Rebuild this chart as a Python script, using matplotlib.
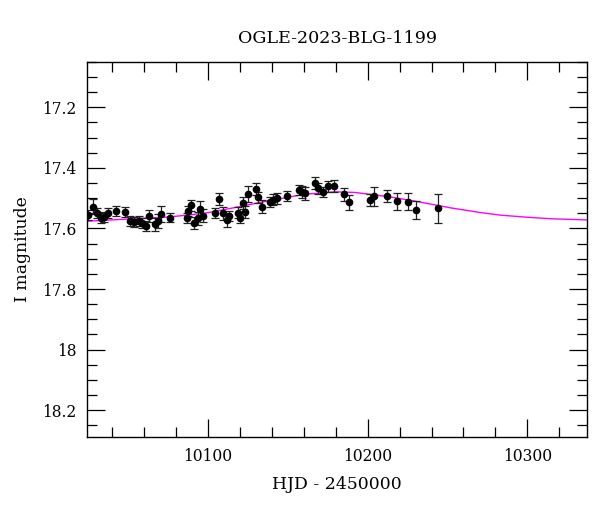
import matplotlib
matplotlib.use('Agg')
import matplotlib.pyplot as plt
from matplotlib.ticker import MultipleLocator

# photometry (HJD - 2450000, I mag, error)
hjd = [10025.3, 10028.5, 10030.6, 10033.3, 10035.3, 10037.5, 10042.5, 10048.3,
       10051.4, 10054.1, 10057.2, 10059.1, 10061.2, 10063.5, 10067.1, 10068.7,
       10070.6, 10076.4, 10086.9, 10087.9, 10089.4, 10091.6, 10093.8, 10095.2,
       10096.9, 10104.6, 10107.3, 10109.4, 10111.9, 10113.3, 10118.8, 10120.2,
       10122.3, 10123.4, 10125.1, 10130.2, 10131.3, 10134.2, 10139.0, 10141.1,
       10143.2, 10149.5, 10157.3, 10159.2, 10160.9, 10167.2, 10169.2, 10172.4,
       10175.5, 10179.2, 10185.3, 10188.4, 10201.6, 10204.3, 10212.4, 10218.3,
       10225.5, 10230.3, 10244.1]
mag = [17.556, 17.528, 17.550, 17.565, 17.562, 17.548, 17.542, 17.546,
       17.576, 17.579, 17.576, 17.581, 17.591, 17.558, 17.586, 17.575,
       17.553, 17.565, 17.565, 17.542, 17.524, 17.581, 17.567, 17.537,
       17.558, 17.548, 17.502, 17.550, 17.572, 17.559, 17.548, 17.564,
       17.515, 17.545, 17.487, 17.470, 17.497, 17.528, 17.512, 17.505,
       17.501, 17.492, 17.473, 17.479, 17.484, 17.451, 17.468, 17.479,
       17.461, 17.459, 17.487, 17.514, 17.506, 17.494, 17.494, 17.510,
       17.512, 17.539, 17.534]
err = [0.017, 0.025, 0.017, 0.017, 0.017, 0.017, 0.017, 0.017,
       0.017, 0.017, 0.017, 0.017, 0.017, 0.020, 0.022, 0.022,
       0.027, 0.015, 0.017, 0.017, 0.019, 0.020, 0.022, 0.027,
       0.022, 0.017, 0.020, 0.022, 0.022, 0.017, 0.019, 0.017,
       0.020, 0.020, 0.027, 0.019, 0.019, 0.022, 0.017, 0.019,
       0.019, 0.017, 0.017, 0.019, 0.022, 0.020, 0.019, 0.017,
       0.019, 0.019, 0.022, 0.024, 0.020, 0.031, 0.020, 0.028,
       0.028, 0.031, 0.047]

# model curve
model_t = [10024.7, 10050, 10076, 10098, 10115, 10130, 10150, 10161, 10180,
           10192, 10213, 10230, 10252, 10270, 10283, 10300, 10315, 10338]
model_m = [17.576, 17.569, 17.562, 17.550, 17.533, 17.517, 17.497, 17.487, 17.479,
           17.481, 17.495, 17.510, 17.532, 17.547, 17.556, 17.563, 17.568, 17.572]

plt.rcParams['font.family'] = ['DejaVu Serif']

fig = plt.figure(figsize=(6, 5.12), dpi=100)
ax = fig.add_axes([0.1455, 0.147, 0.8335, 0.732])

ax.plot(model_t, model_m, color='magenta', lw=1, zorder=1)
ax.errorbar(hjd, mag, yerr=err, fmt='o', color='black', ms=4.5,
            ecolor='#222222', elinewidth=0.9, capsize=3, capthick=0.9, zorder=2)

ax.set_xlim(10024.7, 10337.5)
ax.set_ylim(18.288, 17.05)
ax.xaxis.set_major_locator(MultipleLocator(100))
ax.xaxis.set_minor_locator(MultipleLocator(20))
ax.yaxis.set_major_locator(MultipleLocator(0.2))
ax.yaxis.set_minor_locator(MultipleLocator(0.05))
ax.yaxis.set_major_formatter(plt.FuncFormatter(lambda v, p: ('%.1f' % v).rstrip('0').rstrip('.')))
ax.tick_params(which='both', direction='in', top=True, right=True, labelsize=11.2)
ax.tick_params(which='major', length=13, width=0.9, pad=8)
ax.tick_params(which='minor', length=7, width=0.9)
for s in ax.spines.values():
    s.set_linewidth(1)

ax.set_title('OGLE-2023-BLG-1199', fontsize=12.6, pad=14)
ax.set_xlabel('HJD - 2450000', fontsize=12.4, labelpad=8)
ax.set_ylabel('I magnitude', fontsize=12.4, labelpad=8)

fig.savefig('out.png', dpi=100)
